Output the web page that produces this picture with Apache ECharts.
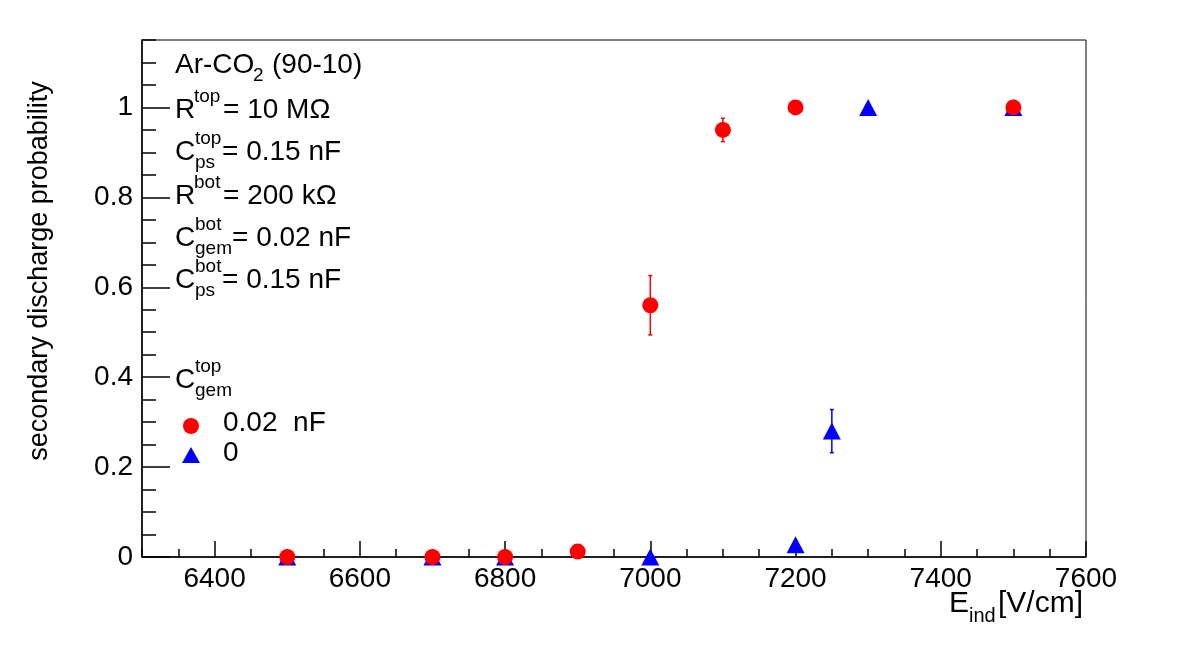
<!DOCTYPE html>
<html>
<head>
<meta charset="utf-8">
<script src="https://cdn.jsdelivr.net/npm/echarts@6/dist/echarts.min.js"></script>
<style>
  html, body { margin: 0; padding: 0; background: #fff; }
  #main { width: 1182px; height: 646px; }
</style>
</head>
<body>
<div id="main"></div>
<script>
// C_gem^top = 0.02 nF
var redX = [6500, 6700, 6800, 6900, 7000, 7100, 7200, 7500];
var redY = [0, 0, 0, 0.012, 0.56, 0.95, 1.0, 1.0];
var redErr = [0, 0, 0, 0.004, 0.066, 0.026, 0, 0];
// C_gem^top = 0
var blueX = [6500, 6700, 6800, 7000, 7200, 7250, 7300, 7500];
var blueY = [0, 0, 0, 0, 0.027, 0.28, 1.0, 1.0];
var blueErr = [0, 0, 0, 0, 0.008, 0.048, 0, 0];

var xMajor = [6400, 6600, 6800, 7000, 7200, 7400, 7600];
var yMajor = [0, 0.2, 0.4, 0.6, 0.8, 1];

var FONT = '"Liberation Sans", Arial, Helvetica, sans-serif';

function pts(xs, ys) {
  return xs.map(function (x, i) { return [x, ys[i]]; });
}
function errs(xs, ys, es) {
  return xs.map(function (x, i) { return [x, ys[i] - es[i], ys[i] + es[i]]; });
}

function errorBar(color) {
  return function (params, api) {
    var lo = api.coord([api.value(0), api.value(1)]);
    var hi = api.coord([api.value(0), api.value(2)]);
    if (Math.abs(lo[1] - hi[1]) < 1) return null;
    var st = { stroke: color, lineWidth: 1.5 };
    return {
      type: 'group',
      children: [
        { type: 'line', shape: { x1: lo[0], y1: lo[1], x2: hi[0], y2: hi[1] }, style: st },
        { type: 'line', shape: { x1: lo[0] - 2, y1: lo[1], x2: lo[0] + 2, y2: lo[1] }, style: st },
        { type: 'line', shape: { x1: hi[0] - 2, y1: hi[1], x2: hi[0] + 2, y2: hi[1] }, style: st }
      ]
    };
  };
}

function txt(x, y, s, size) {
  return {
    type: 'text', x: x, y: y, silent: true,
    style: { text: s, font: size + 'px ' + FONT, fill: '#000', verticalAlign: 'middle', align: 'left' }
  };
}
// base letter + optional super/sub script + rest
function label(x, y, base, sup, sub, rest, restX) {
  var out = [txt(x, y, base, 28)];
  var bw = base === 'C' ? 20 : 19;
  if (sup) out.push(txt(x + bw, y - 13, sup, 19));
  if (sub) out.push(txt(x + bw, y + 11, sub, 19));
  if (rest) out.push(txt(restX, y, rest, 28));
  return out;
}

var chart = echarts.init(document.getElementById('main'), null, { renderer: 'canvas' });

var axisFont = { fontFamily: FONT, fontSize: 28, color: '#000' };

var graphics = [].concat(
  [txt(175, 65, 'Ar-CO', 28), txt(253, 76, '2', 19), txt(272, 65, '(90-10)', 28)],
  label(175, 110, 'R', 'top', null, '= 10 M\u03A9', 223),
  label(175, 152, 'C', 'top', 'ps', '= 0.15 nF', 222),
  label(175, 196, 'R', 'bot', null, '= 200 k\u03A9', 223),
  label(175, 238, 'C', 'bot', 'gem', '= 0.02 nF', 232),
  label(175, 280, 'C', 'bot', 'ps', '= 0.15 nF', 222),
  label(175, 380, 'C', 'top', 'gem', null, 0),
  [txt(223, 423, '0.02  nF', 28), txt(223, 453, '0', 28)],
  [{
    type: 'circle', shape: { cx: 191, cy: 426, r: 8 }, style: { fill: '#ff0000' }
  }, {
    type: 'polygon', shape: { points: [[191, 447], [182, 463], [200, 463]] }, style: { fill: '#0000ff' }
  }],
  [{
    type: 'text', x: 40, y: 271, rotation: Math.PI / 2,
    style: { text: 'secondary discharge probability', font: '27px ' + FONT, fill: '#000', align: 'center', verticalAlign: 'middle' }
  }],
  [txt(949, 604, 'E', 30), txt(969, 616, 'ind', 20), txt(998, 604, '[V/cm]', 30)]
);

var option = {
  backgroundColor: '#fff',
  animation: false,
  grid: {
    left: 142, right: 96, top: 40, bottom: 89,
    show: true, borderColor: '#000', borderWidth: 1, backgroundColor: 'transparent'
  },
  xAxis: [{
    type: 'value', min: 6300, max: 7600, position: 'bottom',
    axisLine: { onZero: false, lineStyle: { color: '#000', width: 1.5 } },
    axisTick: { inside: true, length: 16, customValues: xMajor, lineStyle: { color: '#000', width: 1.5 } },
    axisLabel: Object.assign({
      customValues: xMajor, margin: 8,
      formatter: function (v) { return String(v); }
    }, axisFont),
    splitLine: { show: false }
  }, {
    type: 'value', min: 6300, max: 7600, interval: 50, position: 'bottom',
    axisLine: { show: false },
    axisTick: { inside: true, length: 8, lineStyle: { color: '#000', width: 1.5 } },
    axisLabel: { show: false },
    splitLine: { show: false }
  }],
  yAxis: [{
    type: 'value', min: 0, max: 1.15, position: 'left',
    axisLine: { show: true, onZero: false, lineStyle: { color: '#000', width: 1.5 } },
    axisTick: { show: true, inside: true, length: 28, customValues: yMajor, lineStyle: { color: '#000', width: 1.5 } },
    axisLabel: Object.assign({
      customValues: yMajor, margin: 9,
      formatter: function (v) { return String(+v.toFixed(1)); }
    }, axisFont),
    splitLine: { show: false }
  }, {
    type: 'value', min: 0, max: 1.15, interval: 0.05, position: 'left',
    axisLine: { show: false },
    axisTick: { show: true, inside: true, length: 14, lineStyle: { color: '#000', width: 1.5 } },
    axisLabel: { show: false },
    splitLine: { show: false }
  }],
  series: [{
    type: 'custom', name: 'err0', renderItem: errorBar('#0000ff'),
    data: errs(blueX, blueY, blueErr), encode: { x: 0, y: [1, 2] }, z: 2
  }, {
    type: 'custom', name: 'err002', renderItem: errorBar('#ff0000'),
    data: errs(redX, redY, redErr), encode: { x: 0, y: [1, 2] }, z: 2
  }, {
    type: 'scatter', name: '0', data: pts(blueX, blueY),
    symbol: 'triangle', symbolSize: [18, 17], clip: false,
    itemStyle: { color: '#0000ff', opacity: 1 }, z: 3
  }, {
    type: 'scatter', name: '0.02 nF', data: pts(redX, redY),
    symbol: 'circle', symbolSize: 16, clip: false,
    itemStyle: { color: '#ff0000', opacity: 1 }, z: 4
  }],
  graphic: graphics
};

chart.setOption(option);
</script>
</body>
</html>
